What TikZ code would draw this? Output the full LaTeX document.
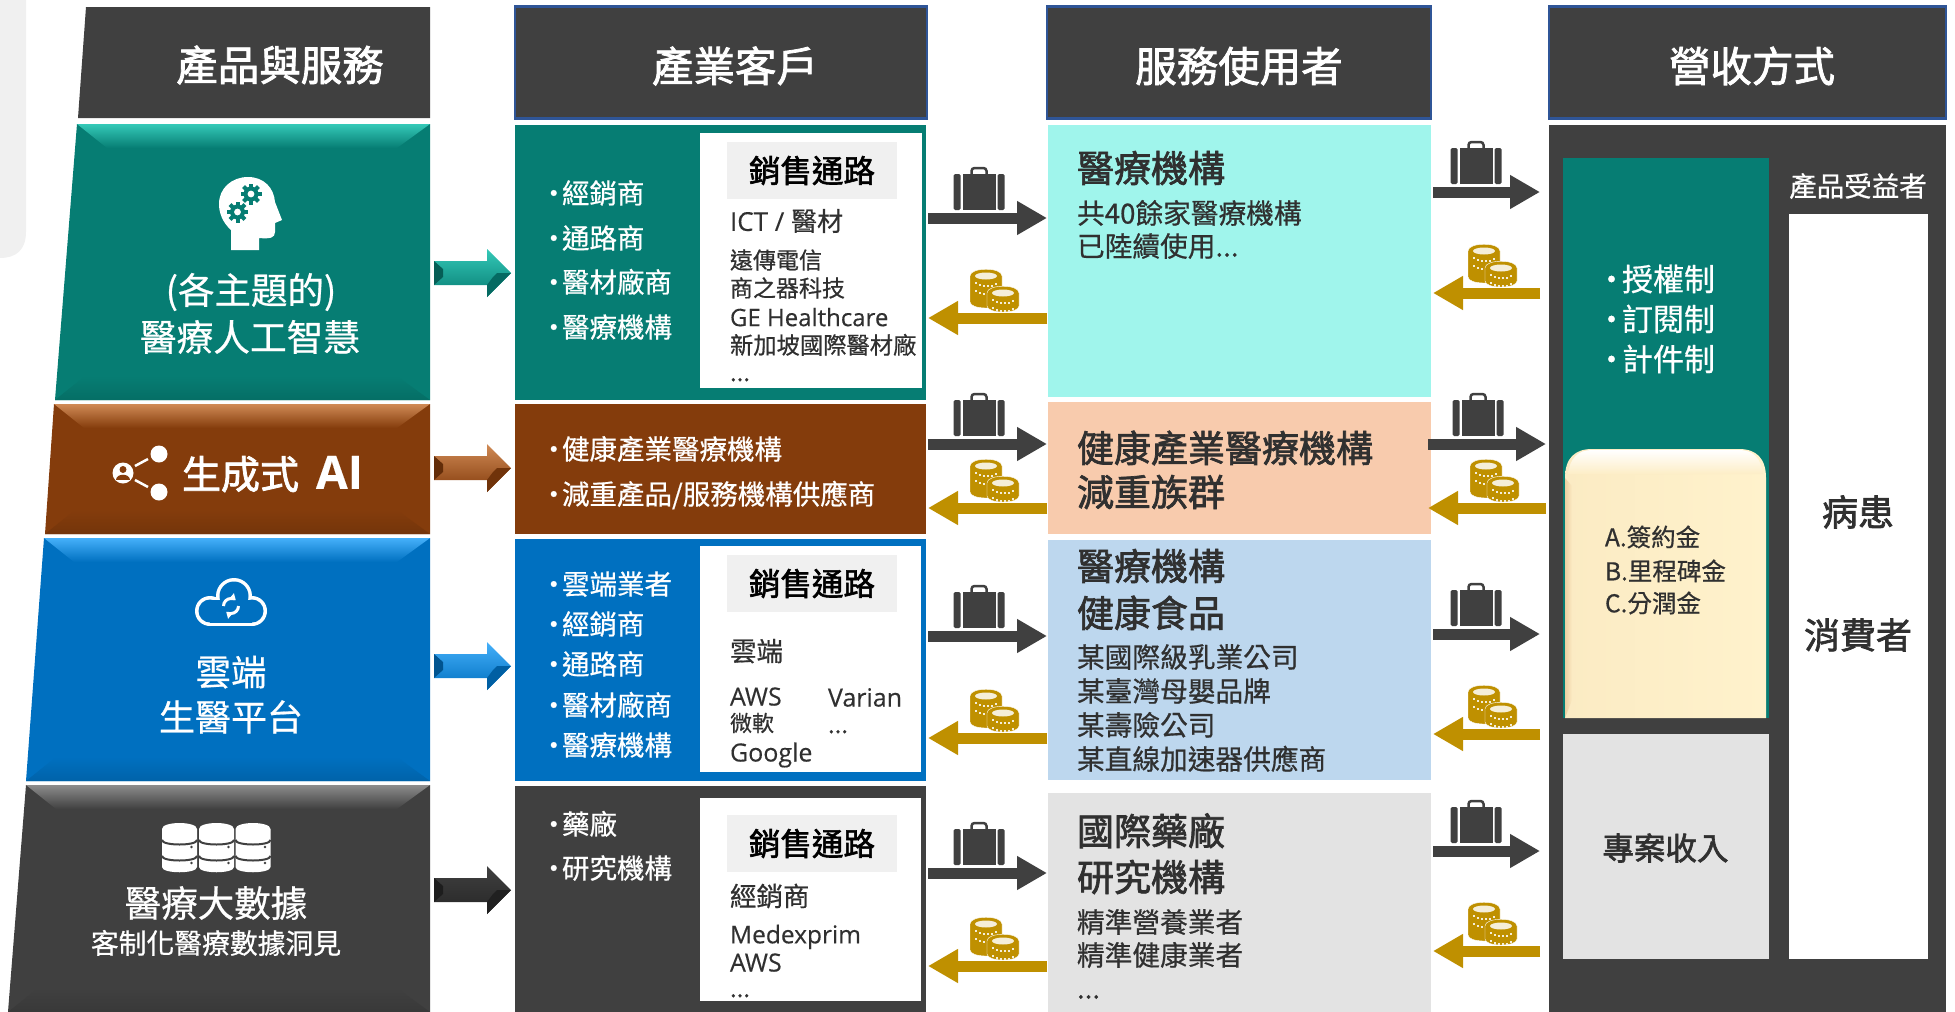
\documentclass[tikz,border=0pt]{standalone}
\usepackage{fontspec}
\setmainfont[FakeBold=0.6,BoldFont={Noto Sans CJK TC},BoldFeatures={FakeBold=1.9}]{Noto Sans CJK TC}
\newfontfamily\latfont[FakeBold=0.3]{Open Sans}
\usepackage{xcolor}
\usepackage{tikz}
\usetikzlibrary{arrows.meta,
                positioning}

\definecolor{inkdark}{HTML}{404040}
\definecolor{inktext}{HTML}{303030}
\definecolor{arrowdark}{HTML}{262626}
\definecolor{coingold}{HTML}{BF9000}
\definecolor{tealbase}{HTML}{067D73}
\definecolor{teallight}{HTML}{35C9B8}
\definecolor{brownbase}{HTML}{843C0C}
\definecolor{brownlight}{HTML}{D08A55}
\definecolor{bluebase}{HTML}{0070C0}
\definecolor{bluelight}{HTML}{45B0FA}
\definecolor{darklight}{HTML}{8C8C8C}
\definecolor{aquabox}{HTML}{A0F5EC}
\definecolor{peachbox}{HTML}{F8CBAD}
\definecolor{skybox}{HTML}{BDD7EE}
\definecolor{greybox}{HTML}{E3E3E3}
\definecolor{labelbox}{HTML}{F0F0F0}
\definecolor{framecol}{HTML}{2F5597}
\definecolor{creambox}{HTML}{FFF2CC}

\newcommand{\fs}[1]{\fontsize{#1}{#1}\selectfont}
\newcommand{\dotitem}[1]{\makebox[22pt][l]{·}#1}
\newcommand{\trail}{...}

\tikzset{
  txt/.style={font=\fs{#1},inner sep=0pt,outer sep=0pt,
              text height=0.84*#1pt,text depth=0.08*#1pt},
  boldtxt/.style={txt=#1,font=\fs{#1}\bfseries},
  colbox/.style={inner sep=0pt,outer sep=0pt},
  bagarrow/.style={inkdark,line width=11pt,
                   -{Triangle[length=30pt,width=32pt]}},
  coinarrow/.style={coingold,line width=11pt,
                    -{Triangle[length=30pt,width=32pt]}},
  suitcase/.pic={
    \draw[inkdark,line width=2.5pt,rounded corners=3pt] (-7.5,-35) -- (-7.5,-42) -- (7.5,-42) -- (7.5,-35);
    \fill[inkdark,rounded corners=1.5pt] (-25.5,-36) rectangle (-18.5,0);
    \fill[inkdark] (-16.5,-36) rectangle (16.5,0);
    \fill[inkdark,rounded corners=1.5pt] (18.5,-36) rectangle (25.5,0);
  },
  coinpile/.pic={
    \foreach \cx/\ty/\by in {-9/-36/-10,8/-19/-6} {
      \draw[fill=coingold,draw=white,line width=0.4pt]
        (\cx-16,\ty) -- (\cx-16,\by) .. controls (\cx-16,\by+8) and (\cx+16,\by+8) .. (\cx+16,\by)
        -- (\cx+16,\ty) .. controls (\cx+16,\ty-9) and (\cx-16,\ty-9) .. cycle;
      \fill[white!85!coingold] (\cx,\ty) ellipse (11 and 3.5);
      \foreach \dy in {6,14}
        \foreach \dx in {-11,-7,...,11}
          \fill[white!85!coingold] (\cx+\dx,\ty+\dy+3.5-\dx*\dx*0.025) rectangle ++(2,2);
    }
  },
  gearicon/.pic={
    \fill[tealbase] circle (7.5);
    \foreach \a in {0,45,...,315}
      \fill[tealbase,rotate=\a] (-2,0) rectangle (2,10.5);
    \fill[white] circle (3.4);
  }
}

\begin{document}
\begin{tikzpicture}[x=1pt,y=-1pt]
\useasboundingbox (0,0) rectangle (1955,1012);

% grey panel behind, top left
\fill[labelbox] (0,0) -- (26,0) -- (26,232) .. controls (26,250) and (16,258) .. (0,258) -- cycle;

% left column headers and bevelled blocks
\fill[inkdark] (86,7) -- (430,7) -- (430,118) -- (78,118) -- cycle;
\foreach \n/\tl/\bl/\yt/\yb/\cb/\cl in {1/77/55/124/400/tealbase/teallight,
                                        2/54/45/404/534/brownbase/brownlight,
                                        3/44/26/538/781/bluebase/bluelight,
                                        4/26/8/785/1012/inkdark/darklight} {
  \fill[\cb] (\tl,\yt) -- (430,\yt) -- (430,\yb) -- (\bl,\yb) -- cycle;
  \shade[top color=\cl,bottom color=\cb] (\tl,\yt) -- (430,\yt) -- (397,\yt+24) -- (\tl+30,\yt+24) -- cycle;
  \shade[top color=\cb,bottom color=\cb!88!black] (\bl+30,\yb-24) -- (397,\yb-24) -- (430,\yb) -- (\bl,\yb) -- cycle;
}

% block arrows
\foreach \yc/\cb/\cl in {273/tealbase/teallight,468/brownbase/brownlight,
                         666/bluebase/bluelight,890/arrowdark/inkdark} {
  \shade[top color=\cl,bottom color=\cb] (434,\yc-12) -- (487,\yc-12) -- (487,\yc-24) -- (511,\yc)
     -- (487,\yc+24) -- (487,\yc+12) -- (434,\yc+12) -- cycle;
  \fill[\cb!75!black] (434,\yc-12) -- (443,\yc-4) -- (443,\yc+4) -- (434,\yc+12) -- cycle;
  \fill[\cb!85!black] (487,\yc+24) -- (511,\yc) -- (497,\yc) -- (493,\yc+4) -- (487,\yc+12) -- cycle;
}

% column boxes
\foreach \n/\xa/\ya/\xb/\yb/\cf in {cust1/515/125/926/400/tealbase,
                                    cust2/515/404/926/534/brownbase,
                                    cust3/515/539/926/781/bluebase,
                                    cust4/515/786/926/1012/inkdark,
                                    user1/1048/125/1431/397/aquabox,
                                    user2/1048/402/1431/534/peachbox,
                                    user3/1048/540/1431/780/skybox,
                                    user4/1048/793/1431/1012/greybox,
                                    rev/1549/125/1946/1012/inkdark,
                                    chan1/700/133/922/388/white,
                                    chan3/700/546/921/772/white,
                                    chan4/700/798/921/1001/white,
                                    fee/1563/158/1769/718/tealbase,
                                    proj/1563/734/1769/959/greybox,
                                    payer/1789/214/1928/959/white}
  \node[colbox,fill=\cf,minimum width={(\xb-\xa)*1pt},minimum height={(\yb-\ya)*1pt}]
    (\n) at ({(\xa+\xb)/2},{(\ya+\yb)/2}) {};

% headers
\foreach \n/\xa/\xb/\t/\tx in {hd2/515/927/產業客戶/735,hd3/1047/1431/服務使用者/1239,hd4/1549/1946/營收方式/1752} {
  \node[colbox,fill=inkdark,draw=framecol,line width=2.5pt,minimum width={(\xb-\xa)*1pt},minimum height=112pt]
    (\n) at ({(\xa+\xb)/2},62.5) {};
  \node[boldtxt=41.5,text=white] (\n text) at (\tx,66) {\t};
}
\node[boldtxt=41.5,text=white] (hd1text) at (280,65) {產品與服務};

% sales channel labels
\foreach \r/\yc in {1/170.5,3/583.5,4/843.5}
  \node[colbox,fill=labelbox,minimum width=170pt,minimum height=57pt,boldtxt=31.5,text=black]
    (chanhead\r) at (812,\yc) {銷售通路};

% customer lists
\foreach \n/\y/\t in {a/193/經銷商,b/238/通路商,c/282/醫材廠商,d/327/醫療機構,
                      e/449/健康產業醫療機構,f/494/{減重產品/服務機構供應商},
                      g/584/雲端業者,h/624/經銷商,i/664/通路商,j/705/醫材廠商,k/745/醫療機構,
                      l/824/藥廠,m/868/研究機構}
  \node[txt=27.5,text=white,anchor=west] (list\n) at (540,\y) {\dotitem{\t}};

% channel contents
\foreach \n/\x/\y/\s/\t in {a/730/221/26/{\latfont ICT / }醫材,
                            b/730/260/23/遠傳電信,
                            c/730/288/23/商之器科技,
                            d/730/317/24/{\latfont GE Healthcare},
                            e/730/345/23.3/新加坡國際醫材廠,
                            f/730/372/24/\trail,
                            g/730/651/26.5/雲端,
                            h/730/696/25/{\latfont AWS},
                            i/828/697/25/{\latfont Varian},
                            j/730/723/22/微軟,
                            k/828/724/24/\trail,
                            l/730/752/25/{\latfont Google},
                            m/730/896/26.5/經銷商,
                            n/730/934/24.5/{\latfont Medexprim},
                            o/730/962/25/{\latfont AWS},
                            p/730/988/24/\trail}
  \node[txt=\s,text=inktext,anchor=west] (chan\n) at (\x,\y) {\t};

% service user texts
\foreach \n/\y/\t in {a/168/醫療機構,b/448/健康產業醫療機構,c/492/減重族群,d/566/醫療機構,
                      e/613/健康食品,f/831/國際藥廠,g/877/研究機構}
  \node[boldtxt=37,text=inktext,anchor=west] (usr\n) at (1077,\y) {\t};
\foreach \n/\y/\t in {a/213/共40餘家醫療機構,b/246/已陸續使用\trail,c/657/某國際級乳業公司,d/691/某臺灣母嬰品牌,
                      e/725/某壽險公司,f/759/某直線加速器供應商,g/922/精準營養業者,h/955/精準健康業者,i/988/\trail}
  \node[txt=27.7,text=inktext,anchor=west] (sub\n) at (1077,\y) {\t};

% cream box in the revenue panel
\shade[left color=creambox!94!brown,right color=creambox]
  (1565,718) -- (1565,478) .. controls (1565,458) and (1575,449) .. (1592,449) -- (1739,449)
  .. controls (1756,449) and (1766,458) .. (1766,478) -- (1766,718) -- cycle;
\shade[top color=white,bottom color=creambox!96!brown]
  (1568,474) .. controls (1570,458) and (1578,450) .. (1592,450) -- (1739,450)
  .. controls (1753,450) and (1761,458) .. (1763,474) -- cycle;
\shade[left color=creambox!70!brown,right color=creambox!94!brown]
  (1565,478) -- (1572,486) -- (1572,700) -- (1565,718) -- cycle;

% revenue panel texts
\foreach \n/\y/\t in {a/279/授權制,b/319/訂閱制,c/359/計件制}
  \node[txt=31,text=white,anchor=west] (fee\n) at (1596,\y) {\makebox[26pt][l]{·}\t};
\foreach \n/\y/\t in {a/537/A.簽約金,b/571/B.里程碑金,c/603/C.分潤金}
  \node[txt=24.5,text=inktext,anchor=west] (pay\n) at (1605,\y) {\t};
\node[boldtxt=31.5,text=inktext] (projtext) at (1665.5,848) {專案收入};
\node[txt=27.5,text=white] (payerhead) at (1858,186) {產品受益者};
\node[boldtxt=36,text=inktext] (payera) at (1858,512) {病患};
\node[boldtxt=36,text=inktext] (payerb) at (1858,635) {消費者};

% suitcases, coins and their arrows
\foreach \n/\a/\b/\sa/\sb/\xs/\xc/\yd/\yg in {l1/cust1/user1/2/1/979/995/218/318,
                                              l2/cust2/user2/2/1/979/995/444/508,
                                              l3/cust3/user3/2/1/979/995/636/738,
                                              l4/cust4/user4/2/1/979/995/873/966,
                                              r1/user1/rev/2/9/1476/1493/192/293,
                                              r2/user2/rev/-3/3/1478/1495/444/508,
                                              r3/user3/rev/2/9/1476/1493/634/734,
                                              r4/user4/rev/2/9/1476/1493/851/951} {
  \coordinate (bag\n) at (\xs,\yd);
  \coordinate (coin\n) at (\xc,\yg);
  \draw[bagarrow,shorten <=\sa pt,shorten >=\sb pt] (\a.east |- bag\n) -- (\b.west |- bag\n);
  \draw[coinarrow,shorten <=\sb pt,shorten >=\sa pt] (\b.west |- coin\n) -- (\a.east |- coin\n);
  \pic at (\xs,\yd-8) {suitcase};
  \pic at (\xc,\yg-6) {coinpile};
}

% AI head icon
\fill[white] (231,250) -- (231,230) .. controls (222,222) and (219,212) .. (219,204)
  .. controls (219,188) and (232,177) .. (248,177) .. controls (264,177) and (274,188) .. (275,202)
  -- (282,220) -- (275,223) -- (275,232) .. controls (275,238) and (270,239) .. (259,238) -- (259,250) -- cycle;
\pic at (251,194) {gearicon};
\pic at (237.5,212) {gearicon};
\node[txt=36.5,text=white] (prod1a) at (251,290) {(各主題的)};
\node[txt=36.7,text=white] (prod1b) at (250,337) {醫療人工智慧};

% share icon
\fill[white] (123,473) circle (10.5);
\fill[brownbase] (123,469.5) circle (3.5);
\fill[brownbase] (116,480) .. controls (116,473) and (130,473) .. (130,480) -- cycle;
\fill[white] (159,454) circle (8.5);
\fill[white] (159,492) circle (8.5);
\draw[white,line width=2.5pt] (135,466) -- (148,459) (135,480) -- (148,487);
\node[boldtxt=39,text=white,anchor=west] (prod2a) at (182,474) {生成式\hspace{17pt}{\latfont\fs{46}AI}};

% cloud icon
\fill[white] (234,596) circle (18) (210,611) circle (15) (252,611) circle (15);
\fill[white] (210,600) rectangle (252,626);
\fill[bluebase] (234,596) circle (14.5) (210,611) circle (11.5) (252,611) circle (11.5);
\fill[bluebase] (210,600) rectangle (252,622.5);
\draw[white,line width=3pt,-{Triangle[length=6pt,width=8pt]}] (238.5,606) arc (0:130:7.5);
\draw[white,line width=3pt,-{Triangle[length=6pt,width=8pt]}] (223.5,606) arc (180:310:7.5);
\node[txt=35.5,text=white] (prod3a) at (231,672) {雲端};
\node[txt=36,text=white] (prod3b) at (231,717) {生醫平台};

% database icon
\foreach \cx in {179.5,216.5,253} {
  \fill[white] (\cx-17.5,829) -- (\cx-17.5,867) .. controls (\cx-17.5,874) and (\cx+17.5,874) .. (\cx+17.5,867)
    -- (\cx+17.5,829) .. controls (\cx+17.5,821) and (\cx-17.5,821) .. cycle;
  \foreach \yl in {840,856} {
    \draw[inkdark,line width=2pt] (\cx-17.5,\yl) .. controls (\cx-17.5,\yl+6) and (\cx+17.5,\yl+6) .. (\cx+17.5,\yl);
    \fill[inkdark] (\cx+12,\yl+7) circle (1.3);
  }
}
\node[txt=36.5,text=white] (prod4a) at (216,903) {醫療大數據};
\node[txt=27.8,text=white] (prod4b) at (216,943) {客制化醫療數據洞見};

\end{tikzpicture}
\end{document}
